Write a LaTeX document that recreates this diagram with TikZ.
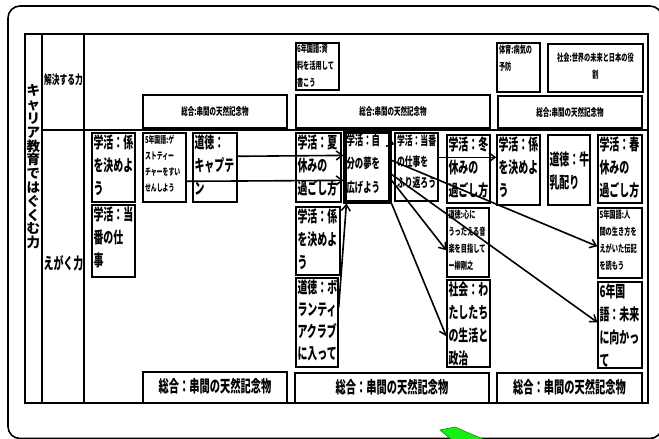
\documentclass[tikz,border=0pt]{standalone}
\usepackage{fontspec}
\newfontfamily\jp[FakeStretch=0.62]{Noto Sans CJK JP}
\newfontfamily\jpv{Noto Sans CJK JP}
\usetikzlibrary{arrows.meta}
\newcommand{\bx}[6][]{\node[box,#1,minimum width={(#4-#2)*1pt},minimum height={(#5-#3)*1pt}] (#6) at ({(#2+#4)/2},{(#3+#5)/2}) {};}
\begin{document}
\begin{tikzpicture}[x=1pt,y=-1pt,
  box/.style={draw,line width=1.4pt,inner sep=0pt},
  txt/.style={anchor=north west,align=left,inner sep=2pt},
  big/.style={txt,font=\jp\bfseries\fontsize{16}{23}\selectfont},
  mid/.style={txt,font=\jp\bfseries\fontsize{13.5}{23.5}\selectfont},
  midb/.style={txt,font=\jp\bfseries\fontsize{12.6}{21}\selectfont},
  sml/.style={txt,font=\jp\bfseries\fontsize{10}{17}\selectfont},
  tny/.style={txt,font=\jp\bfseries\fontsize{9.5}{16}\selectfont},
  sogoS/.style={align=center,inner sep=0pt,font=\jp\bfseries\fontsize{10.5}{12}\selectfont},
  sogoL/.style={align=center,inner sep=0pt,font=\jp\bfseries\fontsize{16.5}{18}\selectfont},
  arr/.style={line width=1.6pt,-{Straight Barb[length=6pt,width=9pt,line width=1.5pt]}},
  tl/.style={line width=1.4pt}]
\useasboundingbox (0,0) rectangle (659,439);
% outer frame
\draw[line width=1.6pt,rounded corners=12pt] (8,6) rectangle (662,438.5);
% table
\draw[tl] (25,34) rectangle (648,403);
\draw[line width=2.8pt] (25,34) -- (648,34);
\draw[line width=2pt] (25,403) -- (648,403);
\draw[tl] (42,34) -- (42,403);
\draw[tl] (84,34) -- (84,403);
\draw[tl] (42,130) -- (648,130);
% row headings
\node[align=center,inner sep=0pt,font=\jpv\bfseries\fontsize{13.5}{13.8}\selectfont] (vt) at (33.5,167)
  {キ\\ャ\\リ\\ア\\教\\育\\で\\は\\ぐ\\く\\む\\力};
\node[inner sep=0pt,font=\jp\bfseries\fontsize{12.5}{14}\selectfont] (kaiketsu) at (63.5,80) {解決する力};
\node[inner sep=0pt,font=\jp\bfseries\fontsize{16}{18}\selectfont] (egaku) at (63.5,263) {えがく力};
% top row boxes
\bx{143}{95}{287}{128}{sogoT1}
\node[sogoS] (sogoT1t) at (sogoT1) {総合:串間の天然記念物};
\bx{296}{43}{339}{90}{kokugo6}
\node[sml,inner sep=1.5pt] (kokugo6t) at (kokugo6.north west) {6年国語:資\\料を活用して\\書こう};
\bx{296}{95}{490}{128}{sogoT2}
\node[sogoS] (sogoT2t) at (sogoT2) {総合:串間の天然記念物};
\bx{497}{43}{540}{92}{taiiku}
\node[sml,inner sep=2.5pt] (taiikut) at (taiiku.north west) {体育:病気の\\予防};
\bx{548}{44}{643}{92}{shakai1}
\node[sml,anchor=center,align=center] (shakai1t) at ([yshift=2pt]shakai1.center) {社会:世界の未来と日本の役\\割};
\bx{498}{96}{642}{128}{sogoT3}
\node[sogoS] (sogoT3t) at (sogoT3) {総合:串間の天然記念物};
% bottom row boxes
\bx{92}{133}{135}{202}{kakariA}
\node[big] (kakariAt) at (kakariA.north west) {学活：係\\を決めよ\\う};
\bx{92}{205}{135}{277}{tobanA}
\node[big] (tobanAt) at (tobanA.north west) {学活：当\\番の仕\\事};
\bx{143}{133}{186}{202}{guest}
\node[tny,inner sep=2.5pt] (guestt) at (guest.north west) {5年国語:ゲ\\ストティー\\チャーをすい\\せんしよう};
\bx{193}{133}{237}{202}{captain}
\node[big] (captaint) at (captain.north west) {道徳：\\キャプテ\\ン};
\bx{296}{133}{341}{202}{natsu}
\node[big] (natsut) at (natsu.north west) {学活：夏\\休みの\\過ごし方};
\bx[line width=3.2pt]{345}{132}{390}{202}{yume}
\node[mid,inner sep=3pt] (yumet) at (yume.north west) {学活：自\\分の夢を\\広げよう};
\bx{395}{133}{438}{201}{tobanB}
\node[midb,inner sep=2.5pt] (tobanBt) at (tobanB.north west) {学活：当番\\の仕事を\\ふり返ろう};
\bx{447}{135}{490}{203}{fuyu}
\node[big] (fuyut) at (fuyu.north west) {学活：冬\\休みの\\過ごし方};
\bx{497}{135}{540}{205}{kakariC}
\node[big] (kakariCt) at (kakariC.north west) {学活：係\\を決めよ\\う};
\bx{548}{135}{590}{205}{gyunyu}
\node[big,anchor=west] (gyunyut) at ([yshift=-1pt]gyunyu.west) {道徳：牛\\乳配り};
\bx{598}{135}{642}{203}{haru}
\node[big] (harut) at (haru.north west) {学活：春\\休みの\\過ごし方};
\bx{598}{208}{642}{278}{denki}
\node[sml] (denkit) at (denki.north west) {5年国語:人\\間の生き方を\\えがいた伝記\\を読もう};
\bx{598}{282}{642}{368}{mirai}
\node[big] (miraut) at (mirai.north west) {6年国\\語：未来\\に向かっ\\て};
\bx{447}{208}{489}{277}{ongaku}
\node[sml] (ongakut) at (ongaku.north west) {道徳:心に\\うったえる音\\楽を目指して\\ー柳剛之};
\bx{447}{280}{490}{367}{seikatsu}
\node[big] (seikatsut) at (seikatsu.north west) {社会：わ\\たしたち\\の生活と\\政治};
\bx{296}{207}{340}{275}{kakariB}
\node[big] (kakariBt) at (kakariB.north west) {学活：係\\を決めよ\\う};
\bx{296}{278}{338}{367}{volunteer}
\node[big,font=\jp\bfseries\fontsize{16}{22}\selectfont] (volunteert) at (volunteer.north west) {道徳：ボ\\ランティ\\アクラブ\\に入って};
\bx{143}{372}{287}{403}{sogoB1}
\node[sogoL] (sogoB1t) at ([yshift=1pt]sogoB1.center) {総合：串間の天然記念物};
\bx{295}{373}{489}{403}{sogoB2}
\node[sogoL] (sogoB2t) at ([yshift=1pt]sogoB2.center) {総合：串間の天然記念物};
\bx{497}{373}{642}{403}{sogoB3}
\node[sogoL] (sogoB3t) at ([yshift=1pt]sogoB3.center) {総合：串間の天然記念物};
% arrows
\draw[arr] ([yshift=-24pt]captain.north east) -- ([yshift=-25pt]yume.north west);
\draw[arr] ([yshift=-49pt]guest.north east) -- ([yshift=-50pt]yume.north west);
\draw[arr] ([yshift=-30pt]volunteer.north east) -- ([xshift=3pt]yume.south west);
\draw[arr] ([yshift=-13pt]yume.north east) -- ([yshift=-12pt]tobanB.north west);
\draw[arr] ([yshift=-25pt]tobanB.north east) -- ([yshift=-23pt]kakariC.north west);
\draw[arr] ([yshift=-30pt]yume.north east) -- ([yshift=-39pt]denki.north west);
\draw[arr] ([yshift=-44pt]yume.north east) -- ([yshift=-41pt]mirai.north west);
\draw[arr] ([yshift=-50pt]yume.north east) -- ([yshift=-43pt]ongaku.north west);
\draw[arr] (yume.south east) -- ([yshift=-57pt]seikatsu.north west);
% green shape
\fill[draw={rgb,255:red,0;green,150;blue,0},line width=0.6pt,fill={rgb,255:red,20;green,240;blue,20}]
  (440,430) -- (455,427) -- (485,440) -- (452,440) -- cycle;
\end{tikzpicture}
\end{document}
